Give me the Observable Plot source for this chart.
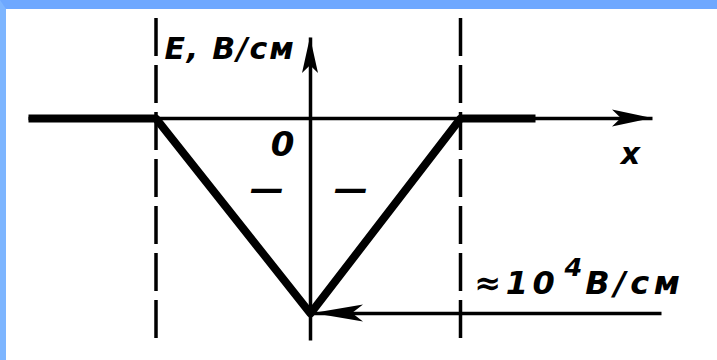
<!DOCTYPE html>
<html>
<head>
<meta charset="utf-8">
<script src="https://cdn.jsdelivr.net/npm/d3@7"></script>
<script src="https://cdn.jsdelivr.net/npm/@observablehq/plot@0.6"></script>
<style>
  html, body { margin: 0; padding: 0; background: #ffffff; }
  #frame {
    width: 711px; height: 351px;
    border-top: 9px solid #6ea8ff;
    border-left: 6px solid #7db5ff;
    background: #ffffff;
    overflow: hidden;
  }
  #frame svg { display: block; }
</style>
</head>
<body>
<div id="frame"></div>
<script>
// ---- data (arbitrary x units; E in units of the peak field, ≈10^4 В/см) ----
const profileX = [-1.88, -1.03, 0, 1, 1.5];   // E(x) curve
const profileE = [0, 0, -1, 0, 0];
const boundaries = [-1.03, 1];                 // edges of the depletion layer
const dashSpanE = [-1.128, 0.56];              // extent of the dashed boundary lines
const xAxisSpan = [-1.88, 2.28];               // x axis (arrow at the right end)
const yAxisSpan = [-1.138, 0.415];             // E axis (arrow at the top)
const peakArrowX = [2.34, 0.02];               // arrow pointing to the peak
const peakE = -1;
const chargeSignX = [-0.29, 0.27];             // space-charge signs
const chargeSignE = -0.36;
const yLabel = "E, В/см";
const xLabel = "x";
const originLabel = "0";
const peakLabel = "≈10⁴В/см";

const profile = profileX.map((x, i) => ({x, E: profileE[i]}));
const arrows = [
  {x1: xAxisSpan[0], y1: 0, x2: xAxisSpan[1], y2: 0, len: 40, wid: 17},
  {x1: 0, y1: yAxisSpan[0], x2: 0, y2: yAxisSpan[1], len: 36, wid: 16},
  {x1: peakArrowX[0], y1: peakE, x2: peakArrowX[1], y2: peakE, len: 50, wid: 17}
];
const signs = chargeSignX.map(x => ({x, E: chargeSignE}));

const font = "'DejaVu Sans', sans-serif";
const txt = {fontFamily: font, fontStyle: "italic", fontWeight: "bold", fill: "#000"};

function arrowHeads(data) {
  return (index, scales) => {
    const g = d3.create("svg:g").attr("fill", "#000");
    for (const d of data) {
      const tx = scales.x(d.x2), ty = scales.y(d.y2);
      const fx = scales.x(d.x1), fy = scales.y(d.y1);
      const L = Math.hypot(tx - fx, ty - fy);
      const ux = (tx - fx) / L, uy = (ty - fy) / L;
      const nx = -uy, ny = ux;
      const bx = tx - ux * d.len, by = ty - uy * d.len;
      const mx = tx - ux * d.len * 0.78, my = ty - uy * d.len * 0.78;
      const pts = [
        [tx, ty],
        [bx + nx * d.wid / 2, by + ny * d.wid / 2],
        [mx, my],
        [bx - nx * d.wid / 2, by - ny * d.wid / 2]
      ];
      g.append("path").attr("d", "M" + pts.map(p => p.join(",")).join("L") + "Z");
    }
    return g.node();
  };
}

const chart = Plot.plot({
  width: 711,
  height: 351,
  margin: 0,
  style: {background: "#ffffff", overflow: "visible"},
  x: {domain: [-2, 2], range: [4, 604], axis: null},
  y: {domain: [-1, 0], range: [304, 109], axis: null},
  marks: [
    // dashed boundaries
    Plot.ruleX(boundaries, {x: d => d, y1: dashSpanE[0], y2: dashSpanE[1],
      stroke: "#000", strokeWidth: 3.5, strokeDasharray: "38 9"}),
    // axes lines
    Plot.link(arrows, {x1: "x1", y1: "y1", x2: "x2", y2: "y2",
      stroke: "#000", strokeWidth: 3.5}),
    arrowHeads(arrows),
    // E(x) profile
    Plot.line(profile, {x: "x", y: "E", stroke: "#000", strokeWidth: 8,
      strokeLinejoin: "round", strokeLinecap: "butt"}),
    // space charge signs
    Plot.text(signs, {x: "x", y: "E", text: () => "—", fontSize: 34, ...txt}),
    // labels
    Plot.text([yLabel], {x: 0, y: yAxisSpan[1], text: d => d, textAnchor: "end",
      lineAnchor: "bottom", dx: -15, dy: 21, fontSize: 30, ...txt}),
    Plot.text([originLabel], {x: 0, y: 0, text: d => d, textAnchor: "end",
      lineAnchor: "bottom", dx: -16, dy: 37, fontSize: 34, ...txt}),
    Plot.text([xLabel], {x: xAxisSpan[1], y: 0, text: d => d, textAnchor: "middle",
      lineAnchor: "bottom", dx: -22, dy: 45, fontSize: 30, ...txt}),
    Plot.text([peakLabel], {x: boundaries[1], y: peakE, text: d => d, textAnchor: "start",
      lineAnchor: "bottom", dx: 14, dy: -20, fontSize: 32, ...txt})
  ]
});

// letter spacing and a real superscript for the exponent
d3.select(chart).selectAll("text").each(function() {
  const t = this.textContent;
  const sel = d3.select(this);
  if (t === yLabel) {
    sel.attr("letter-spacing", "1.8px");
  }
  if (t === peakLabel) {
    const [a, b] = t.split("⁴");
    sel.attr("letter-spacing", "4.5px");
    sel.text(null);
    sel.append("tspan").text(a);
    sel.append("tspan").attr("dy", "-0.7em").attr("dx", "0.2em").attr("font-size", "0.8em").text("4");
    sel.append("tspan").attr("dy", "0.56em").attr("dx", "-0.05em").text(b);
  }
});

document.getElementById("frame").appendChild(chart);
</script>
</body>
</html>
